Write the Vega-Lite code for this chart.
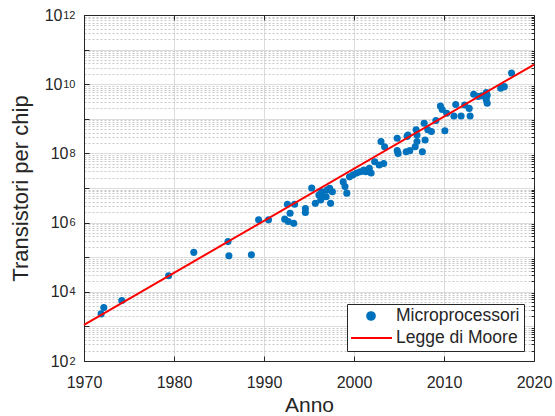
{
  "$schema": "https://vega.github.io/schema/vega-lite/v6.json",
  "width": 450,
  "height": 346,
  "autosize": {"type": "none"},
  "padding": {"left": 84, "top": 15, "right": 21, "bottom": 55},
  "background": "white",
  "config": {
    "view": {"stroke": "#262626", "strokeWidth": 1},
    "font": "Liberation Sans",
    "axis": {
      "labelFont": "Liberation Sans",
      "titleFont": "Liberation Sans",
      "labelColor": "#262626",
      "titleColor": "#262626",
      "tickColor": "#262626",
      "domainColor": "#262626",
      "titleFontWeight": "normal",
      "labelFlush": false,
      "labelOverlap": false
    },
    "legend": {
      "orient": "none",
      "legendX": 263,
      "legendY": 289,
      "labelFont": "Liberation Sans",
      "labelFontSize": 17.5,
      "labelColor": "#262626",
      "labelOffset": 8,
      "labelLimit": 0,
      "strokeColor": "#262626",
      "fillColor": "white",
      "padding": 4,
      "rowPadding": 4,
      "symbolSize": 1764,
      "clipHeight": 16
    }
  },
  "datasets": {
    "chips": [
      {"anno": 1971.9, "transistori": 2300},
      {"anno": 1972.2, "transistori": 3500},
      {"anno": 1974.2, "transistori": 5600},
      {"anno": 1979.4, "transistori": 29000},
      {"anno": 1982.2, "transistori": 138000},
      {"anno": 1986.0, "transistori": 282000},
      {"anno": 1986.1, "transistori": 110000},
      {"anno": 1988.6, "transistori": 117000},
      {"anno": 1989.4, "transistori": 1200000},
      {"anno": 1990.5, "transistori": 1200000},
      {"anno": 1992.3, "transistori": 1260000},
      {"anno": 1992.7, "transistori": 1070000},
      {"anno": 1992.6, "transistori": 3400000},
      {"anno": 1992.9, "transistori": 1860000},
      {"anno": 1993.3, "transistori": 950000},
      {"anno": 1993.4, "transistori": 3400000},
      {"anno": 1994.6, "transistori": 2570000},
      {"anno": 1994.6, "transistori": 1950000},
      {"anno": 1995.3, "transistori": 10000000},
      {"anno": 1995.7, "transistori": 3600000},
      {"anno": 1996.1, "transistori": 6300000},
      {"anno": 1996.4, "transistori": 7800000},
      {"anno": 1996.3, "transistori": 4500000},
      {"anno": 1996.6, "transistori": 5600000},
      {"anno": 1996.9, "transistori": 5600000},
      {"anno": 1997.0, "transistori": 8700000},
      {"anno": 1997.3, "transistori": 9800000},
      {"anno": 1997.6, "transistori": 7800000},
      {"anno": 1997.4, "transistori": 3600000},
      {"anno": 1998.8, "transistori": 15000000},
      {"anno": 1999.0, "transistori": 11000000},
      {"anno": 1999.2, "transistori": 7100000},
      {"anno": 1999.5, "transistori": 21000000},
      {"anno": 1999.9, "transistori": 24000000},
      {"anno": 2000.3, "transistori": 27000000},
      {"anno": 2000.7, "transistori": 29500000},
      {"anno": 2001.1, "transistori": 33000000},
      {"anno": 2001.3, "transistori": 29500000},
      {"anno": 2001.7, "transistori": 37000000},
      {"anno": 2001.9, "transistori": 27000000},
      {"anno": 2002.3, "transistori": 57500000},
      {"anno": 2002.8, "transistori": 46000000},
      {"anno": 2003.3, "transistori": 51000000},
      {"anno": 2003.0, "transistori": 220000000},
      {"anno": 2003.4, "transistori": 155000000},
      {"anno": 2004.8, "transistori": 275000000},
      {"anno": 2004.8, "transistori": 120000000},
      {"anno": 2004.9, "transistori": 100000000},
      {"anno": 2005.9, "transistori": 310000000},
      {"anno": 2006.0, "transistori": 340000000},
      {"anno": 2005.8, "transistori": 112000000},
      {"anno": 2006.2, "transistori": 120000000},
      {"anno": 2006.8, "transistori": 155000000},
      {"anno": 2007.0, "transistori": 220000000},
      {"anno": 2007.0, "transistori": 340000000},
      {"anno": 2006.9, "transistori": 480000000},
      {"anno": 2007.6, "transistori": 112000000},
      {"anno": 2007.8, "transistori": 740000000},
      {"anno": 2007.9, "transistori": 245000000},
      {"anno": 2008.2, "transistori": 480000000},
      {"anno": 2008.6, "transistori": 430000000},
      {"anno": 2009.1, "transistori": 890000000},
      {"anno": 2009.6, "transistori": 2350000000},
      {"anno": 2009.8, "transistori": 1860000000},
      {"anno": 2010.1, "transistori": 450000000},
      {"anno": 2010.3, "transistori": 1450000000},
      {"anno": 2011.1, "transistori": 1200000000},
      {"anno": 2011.3, "transistori": 2600000000},
      {"anno": 2011.9, "transistori": 1200000000},
      {"anno": 2012.3, "transistori": 2500000000},
      {"anno": 2012.8, "transistori": 2000000000},
      {"anno": 2012.9, "transistori": 1200000000},
      {"anno": 2013.3, "transistori": 5100000000},
      {"anno": 2013.8, "transistori": 4400000000},
      {"anno": 2014.2, "transistori": 4600000000},
      {"anno": 2014.7, "transistori": 5750000000},
      {"anno": 2014.8, "transistori": 4800000000},
      {"anno": 2014.7, "transistori": 3500000000},
      {"anno": 2014.8, "transistori": 2800000000},
      {"anno": 2016.3, "transistori": 7600000000},
      {"anno": 2016.7, "transistori": 8500000000},
      {"anno": 2017.5, "transistori": 21000000000}
    ],
    "moore": [
      {"anno": 1970, "transistori": 1100},
      {"anno": 2020, "transistori": 36900000000}
    ]
  },
  "resolve": {"axis": {"x": "independent", "y": "independent"}},
  "layer": [
    {
      "data": {"name": "chips"},
      "mark": {"type": "circle", "opacity": 1, "size": 50},
      "encoding": {
        "x": {
          "field": "anno",
          "type": "quantitative",
          "scale": {"domain": [1970, 2020], "nice": false, "zero": false},
          "axis": {
            "orient": "bottom",
            "values": [1970, 1980, 1990, 2000, 2010, 2020],
            "format": "d",
            "grid": true,
            "gridColor": "#dcdcdc",
            "tickSize": -5,
            "labelFontSize": 16,
            "labelPadding": 18,
            "title": "Anno",
            "titleFontSize": 21,
            "titlePadding": 4
          }
        },
        "y": {
          "field": "transistori",
          "type": "quantitative",
          "scale": {"type": "log", "domain": [100, 1000000000000], "nice": false},
          "axis": {
            "orient": "left",
            "values": [100, 1000, 10000, 100000, 1000000, 10000000, 100000000, 1000000000, 10000000000, 100000000000, 1000000000000],
            "labelExpr": "(datum.value == 100 || datum.value == 10000 || datum.value == 1000000 || datum.value == 100000000 || datum.value == 10000000000 || datum.value == 1000000000000) ? '10' : ''",
            "grid": true,
            "gridColor": "#dcdcdc",
            "tickSize": -5,
            "labelFontSize": 16,
            "labelPadding": {"condition": {"test": "datum.value >= 10000000000", "value": 27}, "value": 21},
            "title": "Transistori per chip",
            "titleFontSize": 22,
            "titlePadding": 12
          }
        },
        "color": {
          "datum": "Microprocessori",
          "type": "nominal",
          "scale": {"domain": ["Microprocessori", "Legge di Moore"], "range": ["#0072BD", "#FF0000"]},
          "legend": {
            "title": null,
            "labelExpr": "datum.label + '\u00a0\u00a0'",
            "encode": {
              "symbols": {
                "update": {
                  "shape": {"signal": "datum.value === 'Legge di Moore' ? 'stroke' : 'circle'"},
                  "size": {"signal": "datum.value === 'Legge di Moore' ? 1764 : 60"},
                  "fill": {"signal": "datum.value === 'Legge di Moore' ? 'transparent' : '#0072BD'"},
                  "stroke": {"signal": "datum.value === 'Legge di Moore' ? '#FF0000' : 'transparent'"},
                  "strokeWidth": {"value": 2},
                  "opacity": {"value": 1},
                  "x": {"value": 20}
                }
              },
              "labels": {
                "update": {"x": {"value": 45}}
              }
            }
          }
        }
      }
    },
    {
      "data": {"name": "moore"},
      "mark": {"type": "line", "strokeWidth": 2},
      "encoding": {
        "x": {
          "field": "anno",
          "type": "quantitative",
          "axis": {
            "orient": "top",
            "values": [1970, 1980, 1990, 2000, 2010, 2020],
            "labels": false,
            "grid": false,
            "tickSize": -5,
            "title": null
          }
        },
        "y": {
          "field": "transistori",
          "type": "quantitative",
          "axis": {
            "orient": "right",
            "values": [200, 300, 400, 500, 600, 700, 800, 900, 2000, 3000, 4000, 5000, 6000, 7000, 8000, 9000, 20000, 30000, 40000, 50000, 60000, 70000, 80000, 90000, 200000, 300000, 400000, 500000, 600000, 700000, 800000, 900000, 2000000, 3000000, 4000000, 5000000, 6000000, 7000000, 8000000, 9000000, 20000000, 30000000, 40000000, 50000000, 60000000, 70000000, 80000000, 90000000, 200000000, 300000000, 400000000, 500000000, 600000000, 700000000, 800000000, 900000000, 2000000000, 3000000000, 4000000000, 5000000000, 6000000000, 7000000000, 8000000000, 9000000000, 20000000000, 30000000000, 40000000000, 50000000000, 60000000000, 70000000000, 80000000000, 90000000000, 200000000000, 300000000000, 400000000000, 500000000000, 600000000000, 700000000000, 800000000000, 900000000000],
            "labels": false,
            "grid": true,
            "gridColor": "#c8c8c8",
            "gridDash": [2, 2],
            "tickSize": -3,
            "title": null
          }
        },
        "color": {
          "datum": "Legge di Moore",
          "type": "nominal",
          "legend": {
            "title": null,
            "labelExpr": "datum.label + '\u00a0\u00a0'",
            "encode": {
              "symbols": {
                "update": {
                  "shape": {"signal": "datum.value === 'Legge di Moore' ? 'stroke' : 'circle'"},
                  "size": {"signal": "datum.value === 'Legge di Moore' ? 1764 : 60"},
                  "fill": {"signal": "datum.value === 'Legge di Moore' ? 'transparent' : '#0072BD'"},
                  "stroke": {"signal": "datum.value === 'Legge di Moore' ? '#FF0000' : 'transparent'"},
                  "strokeWidth": {"value": 2},
                  "opacity": {"value": 1},
                  "x": {"value": 20}
                }
              },
              "labels": {
                "update": {"x": {"value": 45}}
              }
            }
          }
        }
      }
    },
    {
      "data": {"name": "moore"},
      "mark": {"type": "line", "strokeOpacity": 0},
      "encoding": {
        "x": {"field": "anno", "type": "quantitative", "axis": null},
        "y": {
          "field": "transistori",
          "type": "quantitative",
          "axis": {
            "orient": "left",
            "values": [100, 10000, 1000000, 100000000, 10000000000, 1000000000000],
            "labelExpr": "datum.value == 100 ? '2' : datum.value == 10000 ? '4' : datum.value == 1000000 ? '6' : datum.value == 100000000 ? '8' : datum.value == 10000000000 ? '10' : '12'",
            "labelFontSize": 11,
            "labelDy": -7,
            "labelAlign": "right",
            "labelPadding": 14,
            "domain": false,
            "grid": false,
            "tickSize": -5,
            "title": null
          }
        }
      }
    }
  ]
}
